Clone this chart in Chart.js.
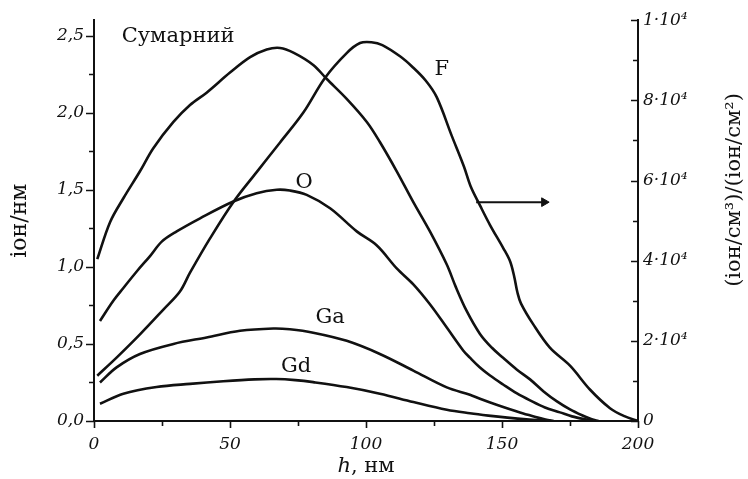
<!DOCTYPE html>
<html>
<head>
<meta charset="utf-8">
<style>
  html, body { margin: 0; padding: 0; background: #fff; }
</style>
</head>
<body>
<canvas id="myChart" width="748" height="479"></canvas>

<script src="https://cdn.jsdelivr.net/npm/chart.js"></script>

<script>
  // Сумарний (ліва вісь, іон/нм)
  const sumH = [1.2, 5.9, 10.8, 16.9, 21.8, 29.2, 35.3, 41.4, 50, 57.4, 63.5, 68.4, 73.3, 80.6, 85.5, 92.9, 100.3, 105.1, 111.3, 117.4, 123.5, 129.7, 133, 137, 141.9, 146.3, 150.4, 155.5, 160.3, 165.4, 170.2, 175, 179.4, 183, 185.5];
  const sumV = [1.05, 1.29, 1.445, 1.62, 1.77, 1.94, 2.05, 2.13, 2.26, 2.36, 2.41, 2.42, 2.39, 2.31, 2.22, 2.09, 1.94, 1.81, 1.62, 1.42, 1.23, 1.015, 0.87, 0.714, 0.565, 0.475, 0.41, 0.333, 0.27, 0.19, 0.127, 0.075, 0.037, 0.011, 0];
  // O
  const oH = [2.2, 7.1, 10.8, 15.7, 20.6, 25, 30.4, 39, 51.2, 59.8, 67.2, 72, 78.2, 86.8, 96.6, 103.9, 111.3, 117.4, 123.5, 129.7, 135.8, 138.2, 141.9, 145.6, 150.4, 155.5, 160.3, 165.8, 171.3, 175.7, 180.5, 184.2];
  const oV = [0.649, 0.78, 0.863, 0.97, 1.07, 1.165, 1.23, 1.315, 1.424, 1.478, 1.50, 1.495, 1.467, 1.38, 1.23, 1.14, 0.99, 0.886, 0.757, 0.606, 0.456, 0.411, 0.347, 0.295, 0.237, 0.179, 0.134, 0.088, 0.056, 0.03, 0.011, 0];
  // Ga
  const gaH = [2.2, 8.3, 16.9, 29.2, 41.4, 53.7, 65.9, 72, 80.6, 92.9, 105.1, 117.4, 129.7, 138.2, 141.9, 148, 156.6, 162, 166, 169];
  const gaV = [0.25, 0.348, 0.435, 0.50, 0.542, 0.585, 0.60, 0.595, 0.573, 0.52, 0.435, 0.327, 0.218, 0.17, 0.144, 0.105, 0.055, 0.028, 0.01, 0];
  // Gd
  const gdH = [2.2, 10.8, 23, 35.3, 47.5, 59, 67, 74, 80.6, 92.9, 105.1, 117.4, 129.7, 138.2, 145, 152, 160, 168];
  const gdV = [0.112, 0.177, 0.22, 0.241, 0.258, 0.27, 0.272, 0.265, 0.252, 0.22, 0.177, 0.123, 0.073, 0.05, 0.035, 0.022, 0.01, 0];
  // F (права вісь)
  const fH = [1.2, 8.3, 16.9, 25.5, 31.6, 35.3, 42.6, 51.2, 59.8, 68.4, 76.9, 84.9, 92.9, 97.8, 102, 106, 112.5, 117, 122, 126, 131.5, 136, 138.5, 141.9, 145.6, 150.5, 153, 154.5, 155.7, 157, 161.5, 167.6, 175, 182.4, 189.7, 195, 200];
  const fV = [11300, 15800, 21600, 27800, 32300, 37000, 45500, 54600, 62100, 69500, 76900, 85600, 91800, 94300, 94500, 93800, 91000, 88400, 84900, 80800, 71200, 63500, 58500, 53800, 48900, 43100, 39800, 36000, 32000, 29300, 24100, 18300, 13800, 7800, 3200, 1200, 0];
  // стрілка від F до правої осі
  const arrowH = [140.5, 165.5];
  const arrowV = [54600, 54600];

  // підписи кривих
  const labelTexts = ['Сумарний', 'F', 'O', 'Ga', 'Gd'];
  const labelH = [30.9, 127.9, 77.2, 86.8, 74.3];
  const labelV = [2.495, 2.28, 1.547, 0.674, 0.353];

  // осі
  const xTickValues = [0, 50, 100, 150, 200];
  const xTickLabels = ['0', '50', '100', '150', '200'];
  const xMarks = [0, 25, 50, 75, 100, 125, 150, 175, 200];
  const leftTickValues = [0, 0.5, 1, 1.5, 2, 2.5];
  const leftTickLabels = ['0,0', '0,5', '1,0', '1,5', '2,0', '2,5'];
  const leftMarks = [0, 0.25, 0.5, 0.75, 1, 1.25, 1.5, 1.75, 2, 2.25, 2.5];
  const rightTickValues = [0, 20000, 40000, 60000, 80000, 100000];
  const rightTickLabels = ['0', '2·10⁴', '4·10⁴', '6·10⁴', '8·10⁴', '1·10⁴'];
  const rightMarks = [0, 10000, 20000, 30000, 40000, 50000, 60000, 70000, 80000, 90000, 100000];

  const serif = "'DejaVu Serif', 'Liberation Serif', serif";
  const ink = '#111';

  function pts(h, v) {
    return h.map((x, i) => ({ x: x, y: v[i] }));
  }

  function curve(label, h, v, axis) {
    return {
      label: label,
      data: pts(h, v),
      yAxisID: axis,
      borderColor: ink,
      borderWidth: 2.6,
      pointRadius: 0,
      tension: 0.35,
      fill: false,
    };
  }

  // риски на осях (великі та малі)
  const tickMarks = {
    id: 'tickMarks',
    afterDraw(chart) {
      const ctx = chart.ctx;
      const { left, right, bottom } = chart.chartArea;
      const sx = chart.scales.x, sy = chart.scales.y, sr = chart.scales.y2;
      ctx.save();
      ctx.strokeStyle = ink;
      ctx.lineWidth = 1.6;
      ctx.beginPath();
      leftMarks.forEach(v => {
        const y = Math.round(sy.getPixelForValue(v)) + 0.5;
        const len = leftTickValues.includes(v) ? 8 : 5;
        ctx.moveTo(left, y); ctx.lineTo(left - len, y);
      });
      rightMarks.forEach(v => {
        const y = Math.round(sr.getPixelForValue(v)) + 0.5;
        const len = rightTickValues.includes(v) ? 7 : 5;
        ctx.moveTo(right, y); ctx.lineTo(right - len, y);
      });
      xMarks.forEach(v => {
        const x = Math.round(sx.getPixelForValue(v)) + 0.5;
        const len = xTickValues.includes(v) ? 7 : 5;
        ctx.moveTo(x, bottom); ctx.lineTo(x, bottom + len);
      });
      ctx.stroke();
      ctx.restore();
    }
  };

  // назви осей і підписи кривих
  const textLayer = {
    id: 'textLayer',
    afterDraw(chart) {
      const ctx = chart.ctx;
      const { left, right, top, bottom } = chart.chartArea;
      const sx = chart.scales.x, sy = chart.scales.y;
      ctx.save();
      ctx.fillStyle = ink;
      ctx.textAlign = 'center';
      ctx.textBaseline = 'middle';

      ctx.font = '21px ' + serif;
      labelTexts.forEach((t, i) => {
        ctx.fillText(t, sx.getPixelForValue(labelH[i]), sy.getPixelForValue(labelV[i]));
      });

      // h, нм
      const cx = (left + right) / 2;
      ctx.font = 'italic 21px ' + serif;
      const w1 = ctx.measureText('h').width;
      ctx.font = '21px ' + serif;
      const w2 = ctx.measureText(', нм').width;
      const x0 = cx - (w1 + w2) / 2;
      ctx.textAlign = 'left';
      ctx.font = 'italic 21px ' + serif;
      ctx.fillText('h', x0, 467);
      ctx.font = '21px ' + serif;
      ctx.fillText(', нм', x0 + w1, 467);

      // ліва вісь
      ctx.textAlign = 'center';
      ctx.save();
      ctx.translate(20, (top + bottom) / 2);
      ctx.rotate(-Math.PI / 2);
      ctx.font = '22px ' + serif;
      ctx.fillText('іон/нм', 0, 0);
      ctx.restore();

      // права вісь
      ctx.save();
      ctx.translate(735, 190);
      ctx.rotate(-Math.PI / 2);
      ctx.font = '21px ' + serif;
      ctx.fillText('(іон/см³)/(іон/см²)', 0, 0);
      ctx.restore();

      ctx.restore();
    }
  };

  const ctx1 = document.getElementById('myChart');

  new Chart(ctx1, {
    type: 'line',
    data: {
      datasets: [
        curve('Сумарний', sumH, sumV, 'y'),
        curve('O', oH, oV, 'y'),
        curve('Ga', gaH, gaV, 'y'),
        curve('Gd', gdH, gdV, 'y'),
        curve('F', fH, fV, 'y2'),
        {
          label: 'arrow',
          data: pts(arrowH, arrowV),
          yAxisID: 'y2',
          borderColor: ink,
          borderWidth: 2,
          pointStyle: 'triangle',
          rotation: 90,
          pointRadius: [0, 5],
          pointBackgroundColor: ink,
          pointBorderColor: ink,
          pointBorderWidth: 1,
        },
      ],
    },
    options: {
      responsive: false,
      animation: false,
      devicePixelRatio: 1,
      layout: {
        padding: { top: 17, left: 0, right: 0, bottom: 0 }
      },
      plugins: {
        legend: { display: false },
        tooltip: { enabled: false },
      },
      scales: {
        x: {
          type: 'linear',
          min: 0,
          max: 200,
          afterFit(scale) { scale.height = 58; },
          afterBuildTicks(scale) { scale.ticks = xTickValues.map(v => ({ value: v })); },
          grid: { display: true, drawOnChartArea: false, drawTicks: false },
          border: { display: true, color: ink, width: 2 },
          ticks: {
            padding: 13,
            color: ink,
            font: { family: serif, size: 17, style: 'italic' },
            callback: (v) => xTickLabels[xTickValues.indexOf(v)],
          },
        },
        y: {
          type: 'linear',
          position: 'left',
          min: 0,
          max: 2.6,
          afterFit(scale) { scale.width = 94; },
          afterBuildTicks(scale) { scale.ticks = leftTickValues.map(v => ({ value: v })); },
          grid: { display: true, drawOnChartArea: false, drawTicks: false },
          border: { display: true, color: ink, width: 2 },
          ticks: {
            padding: 10,
            color: ink,
            font: { family: serif, size: 17, style: 'italic' },
            callback: (v) => leftTickLabels[leftTickValues.indexOf(v)],
          },
        },
        y2: {
          type: 'linear',
          position: 'right',
          min: 0,
          max: 100000,
          afterFit(scale) { scale.width = 110; },
          afterBuildTicks(scale) { scale.ticks = rightTickValues.map(v => ({ value: v })); },
          grid: { display: true, drawOnChartArea: false, drawTicks: false },
          border: { display: true, color: ink, width: 2 },
          ticks: {
            padding: 5,
            color: ink,
            font: { family: serif, size: 17, style: 'italic' },
            callback: (v) => rightTickLabels[rightTickValues.indexOf(v)],
          },
        },
      },
    },
    plugins: [tickMarks, textLayer],
  });
</script>
</body>
</html>
